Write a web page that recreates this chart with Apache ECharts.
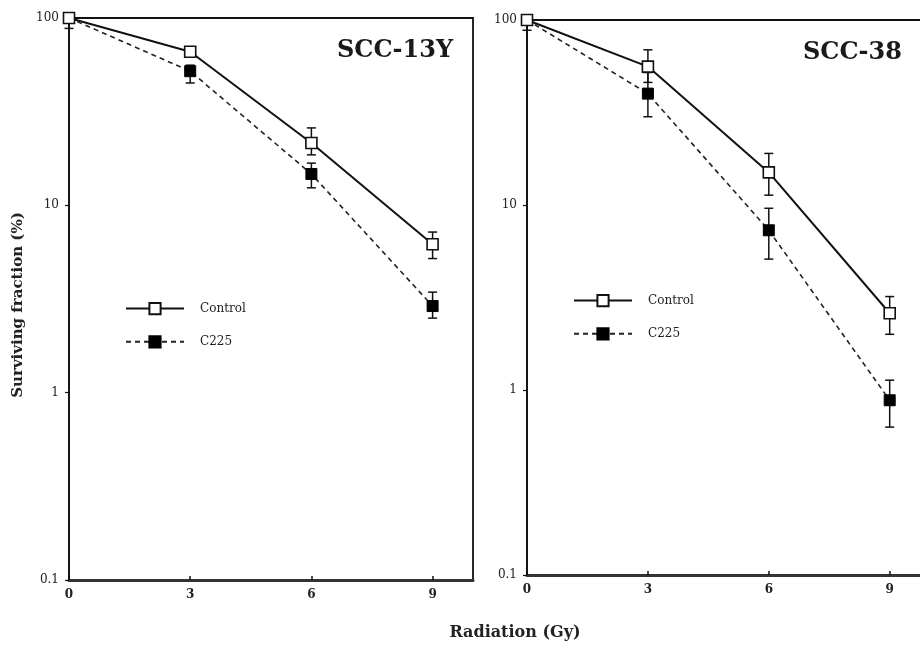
<!DOCTYPE html>
<html>
<head>
<meta charset="utf-8">
<script src="https://cdn.jsdelivr.net/npm/echarts@6/dist/echarts.min.js"></script>
<style>
  html, body { margin: 0; padding: 0; background: #fff; }
  #chart { width: 920px; height: 652px; }
</style>
</head>
<body>
<div id="chart"></div>
<script>
// Radiation dose (Gy)
const dose = [0, 3, 6, 9];
const doseTicks = [0, 3, 6, 9];
const survivalTicks = [0.1, 1, 10, 100];

// SCC-13Y surviving fraction (%)
const ctrl13Y = [100, 66, 21.5, 6.2];
const ctrl13YLow = [100, 62, 18.6, 5.2];
const ctrl13YHigh = [100, 70, 25.9, 7.2];
const c225_13Y = [100, 52, 14.7, 2.9];
const c225_13YLow = [88, 45, 12.4, 2.5];
const c225_13YHigh = [100, 56, 16.8, 3.44];

// SCC-38 surviving fraction (%)
const ctrl38 = [100, 56, 15, 2.6];
const ctrl38Low = [88, 46, 11.3, 2.0];
const ctrl38High = [100, 69, 19, 3.2];
const c225_38 = [100, 40, 7.3, 0.88];
const c225_38Low = [100, 30, 5.1, 0.63];
const c225_38High = [100, 52, 9.6, 1.13];

const SERIF = '"DejaVu Serif", "Liberation Serif", serif';

const pairs = (ys) => dose.map((x, i) => [x, ys[i]]);
const bars = (lo, hi) => dose.map((x, i) => [x, lo[i], hi[i]]);

function errorBars(xi, yi, lo, hi) {
  return {
    type: 'custom',
    xAxisIndex: xi,
    yAxisIndex: yi,
    z: 1,
    silent: true,
    data: bars(lo, hi),
    renderItem: function (params, api) {
      const top = api.coord([api.value(0), api.value(2)]);
      const bot = api.coord([api.value(0), api.value(1)]);
      const half = 4.5;
      const style = { stroke: '#111', lineWidth: 1.5 };
      return {
        type: 'group',
        children: [
          { type: 'line', shape: { x1: top[0], y1: top[1], x2: bot[0], y2: bot[1] }, style: style },
          { type: 'line', shape: { x1: top[0] - half, y1: top[1], x2: top[0] + half, y2: top[1] }, style: style },
          { type: 'line', shape: { x1: bot[0] - half, y1: bot[1], x2: bot[0] + half, y2: bot[1] }, style: style }
        ]
      };
    }
  };
}

function controlLine(xi, yi, ys) {
  return {
    name: 'Control',
    type: 'line',
    xAxisIndex: xi,
    yAxisIndex: yi,
    z: 3,
    data: pairs(ys),
    symbol: 'rect',
    symbolSize: 11,
    showAllSymbol: true,
    lineStyle: { color: '#111', width: 2, type: 'solid' },
    itemStyle: { color: '#fff', borderColor: '#111', borderWidth: 1.6 }
  };
}

function c225Line(xi, yi, ys) {
  return {
    name: 'C225',
    type: 'line',
    xAxisIndex: xi,
    yAxisIndex: yi,
    z: 2,
    data: pairs(ys),
    symbol: 'rect',
    symbolSize: 11,
    showAllSymbol: true,
    lineStyle: { color: '#222', width: 1.6, type: [5, 4] },
    itemStyle: { color: '#000', borderColor: '#000', borderWidth: 1 }
  };
}

function xAxis(gi) {
  return {
    type: 'value',
    gridIndex: gi,
    min: 0,
    max: 10,
    interval: 1,
    axisLine: { show: true, lineStyle: { color: '#333', width: 3 } },
    axisTick: { show: true, inside: true, length: 4, customValues: doseTicks, lineStyle: { color: '#111', width: 1.5 } },
    axisLabel: { customValues: doseTicks, color: '#222', fontFamily: SERIF, fontSize: 12, fontWeight: 'bold', margin: 9 },
    splitLine: { show: false }
  };
}

function yAxis(gi) {
  return {
    type: 'log',
    gridIndex: gi,
    logBase: 10,
    min: 0.1,
    max: 100,
    axisLine: { show: true, lineStyle: { color: '#111', width: 1.5 } },
    axisTick: { show: true, length: 4, customValues: survivalTicks, lineStyle: { color: '#111', width: 1.2 } },
    axisLabel: {
      customValues: survivalTicks,
      color: '#222', fontFamily: SERIF, fontSize: 12, margin: 10,
      formatter: (v) => String(+v.toPrecision(3))
    },
    minorTick: { show: false },
    splitLine: { show: false }
  };
}

function legend(left, top) {
  return {
    left: left,
    top: top,
    orient: 'vertical',
    itemWidth: 58,
    itemHeight: 14,
    itemGap: 20,
    data: ['Control', 'C225'],
    selectedMode: false,
    textStyle: { fontFamily: SERIF, fontSize: 12, color: '#222', padding: [0, 0, 0, 11] }
  };
}

const chart = echarts.init(document.getElementById('chart'), null, { renderer: 'canvas' });

chart.setOption({
  backgroundColor: '#fff',
  animation: false,
  title: [
    { text: 'SCC-13Y', left: 332, top: 34, textStyle: { fontFamily: SERIF, fontWeight: 'bold', fontSize: 24, color: '#1a1a1a' } },
    { text: 'SCC-38', left: 798, top: 36, textStyle: { fontFamily: SERIF, fontWeight: 'bold', fontSize: 24, color: '#1a1a1a' } }
  ],
  legend: [legend(120, 297), legend(568, 289)],
  grid: [
    { left: 69, top: 18, width: 404, height: 562, outerBoundsMode: 'none', show: true, borderColor: '#111', borderWidth: 1.8, backgroundColor: 'transparent' },
    { left: 527, top: 20, width: 403, height: 555, outerBoundsMode: 'none', show: true, borderColor: '#111', borderWidth: 1.8, backgroundColor: 'transparent' }
  ],
  xAxis: [xAxis(0), xAxis(1)],
  yAxis: [yAxis(0), yAxis(1)],
  graphic: [
    {
      type: 'text', x: 18, y: 305, rotation: Math.PI / 2,
      style: { text: 'Surviving fraction (%)', fontFamily: SERIF, fontWeight: 'bold', fontSize: 15, fill: '#222', align: 'center', verticalAlign: 'middle' }
    },
    {
      type: 'text', x: 515, y: 633,
      style: { text: 'Radiation (Gy)', fontFamily: SERIF, fontWeight: 'bold', fontSize: 16, fill: '#222', align: 'center', verticalAlign: 'middle' }
    }
  ],
  series: [
    errorBars(0, 0, ctrl13YLow, ctrl13YHigh),
    errorBars(0, 0, c225_13YLow, c225_13YHigh),
    controlLine(0, 0, ctrl13Y),
    c225Line(0, 0, c225_13Y),
    errorBars(1, 1, ctrl38Low, ctrl38High),
    errorBars(1, 1, c225_38Low, c225_38High),
    controlLine(1, 1, ctrl38),
    c225Line(1, 1, c225_38)
  ]
});
</script>
</body>
</html>
